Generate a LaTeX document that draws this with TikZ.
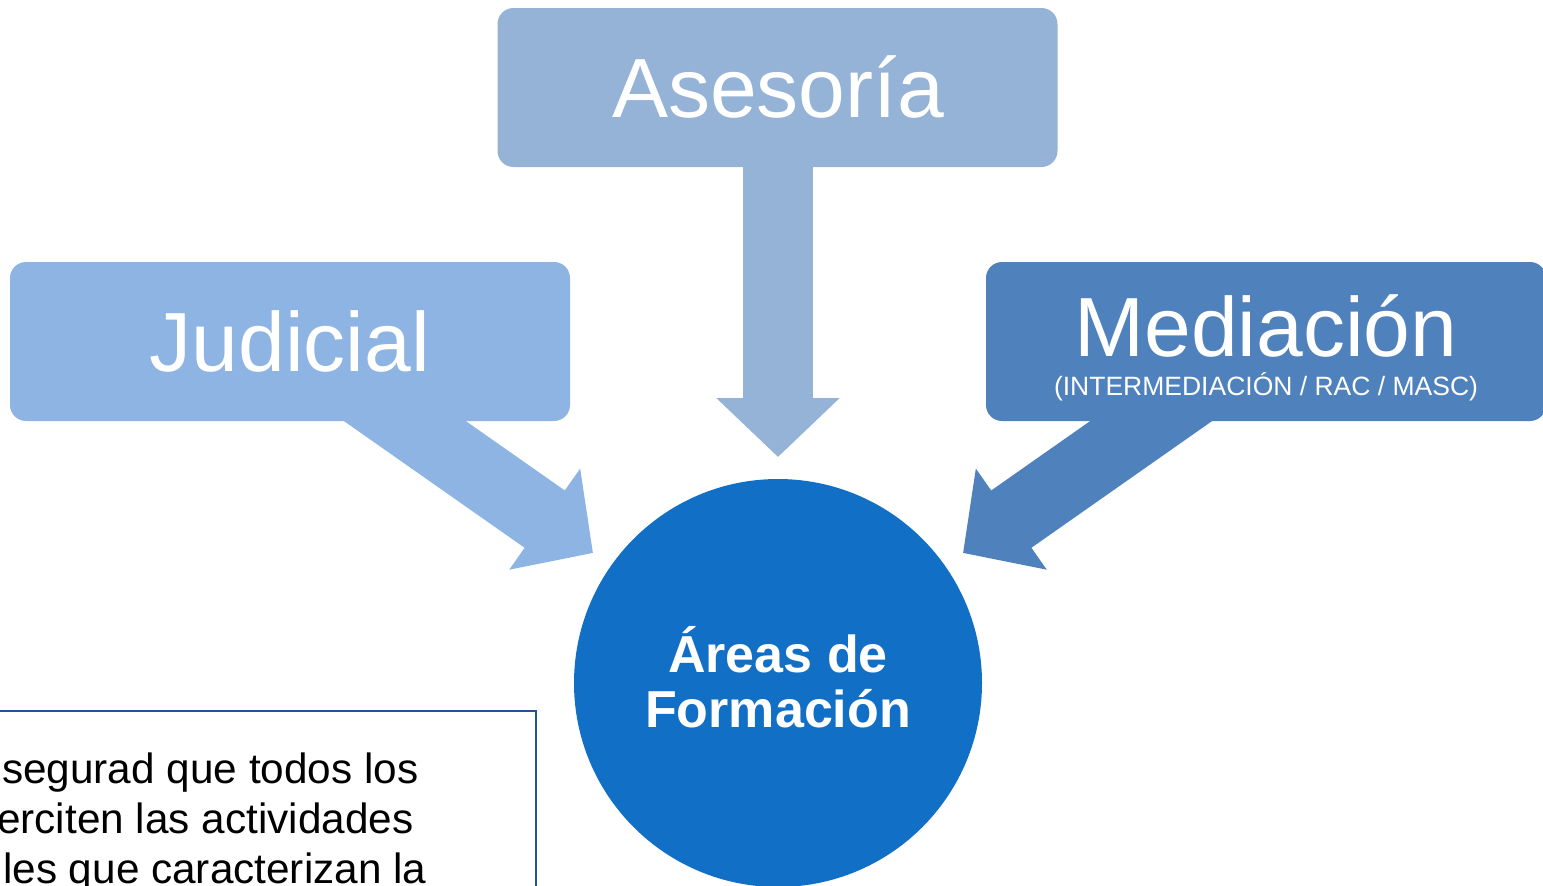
\documentclass[tikz,border=0pt]{standalone}
\usepackage{fontspec}
\setmainfont{Liberation Sans}
\usetikzlibrary{arrows.meta}
\definecolor{cAses}{HTML}{95B3D7}
\definecolor{cJud}{HTML}{8EB4E3}
\definecolor{cMed}{HTML}{4F81BD}
\definecolor{cCirc}{HTML}{1170C6}
\definecolor{cFrame}{HTML}{1F5596}
\begin{document}
\begin{tikzpicture}[x=1pt,y=-1pt,
  box/.style={rounded corners=16pt, minimum width=560pt, minimum height=159pt, inner sep=0pt, draw=none},
  bigtxt/.style={text=white, font=\fontsize{84}{100}\selectfont, inner sep=0pt, anchor=base},
  smalltxt/.style={text=white, font=\fontsize{26.5}{32}\selectfont, inner sep=0pt, anchor=base},
  circtxt/.style={text=white, font=\bfseries\fontsize{52}{60}\selectfont, inner sep=0pt, anchor=base},
  bodytxt/.style={text=black, font=\fontsize{42.3}{50}\selectfont, inner sep=0pt, anchor=base west},
  blockarrow/.style={line width=70pt, -{Triangle[width=120pt,length=59pt]}}
]
\useasboundingbox (0,0) rectangle (1543,886);
\clip (0,0) rectangle (1543,886);

% arrow end points
\coordinate (aS) at (778,140);
\coordinate (aT) at (778,457);
\coordinate (jS) at (339.5,375.2);
\coordinate (jT) at (593,553);
\coordinate (mS) at (1216.5,375.2);
\coordinate (mT) at (963,553);

% block arrows (drawn under the boxes)
\draw[blockarrow, cAses] (aS) -- (aT);
\draw[blockarrow, cJud] (jS) -- (jT);
\draw[blockarrow, cMed] (mS) -- (mT);

% boxes
\node[box, fill=cAses] (ases) at (777.5,87.5) {};
\node[box, fill=cJud] (jud) at (290,341.5) {};
\node[box, fill=cMed] (med) at (1266,341.5) {};

\node[bigtxt] (asesT) at (778,117.5) {Asesoría};
\node[bigtxt] (judT) at (290,371.5) {Judicial};
\node[bigtxt] (medT) at (1266,356) {Mediación};
\node[smalltxt] (medS) at (1266,395) {(INTERMEDIACIÓN / RAC / MASC)};

% central circle
\node[circle, fill=cCirc, minimum size=408pt, inner sep=0pt] (circ) at (778,683) {};
\node[circtxt] (circT1) at (778,672) {Áreas de};
\node[circtxt] (circT2) at (778,727) {Formación};

% text box (cropped)
\node[draw=cFrame, line width=1.5pt, anchor=north west, minimum width=545pt, minimum height=220pt, inner sep=0pt] (tbox) at (-10,710) {};
\node[bodytxt] (l1) at (2,783) {segurad que todos los};
\node[bodytxt] (l2) at (-3,833) {erciten las actividades};
\node[bodytxt] (l3) at (3,883) {les que caracterizan la};
\end{tikzpicture}
\end{document}
